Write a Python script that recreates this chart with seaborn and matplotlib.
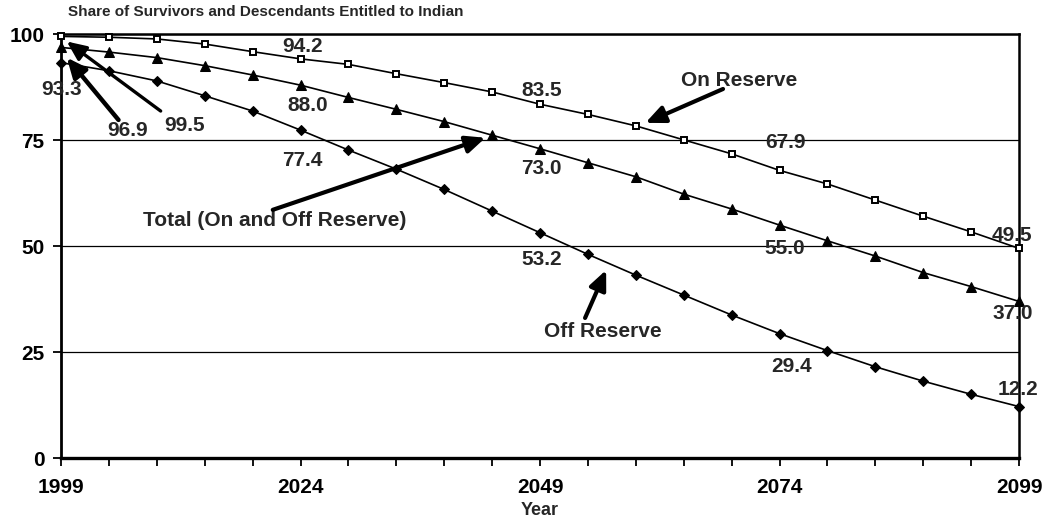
import matplotlib
matplotlib.use("Agg")
import matplotlib.pyplot as plt
from matplotlib.ticker import FixedLocator
import seaborn as sns

# Share (%) of survivors and descendants entitled to Indian registration
years = list(range(1999, 2100, 5))
on_reserve = [99.5, 99.3, 98.9, 97.7, 95.9, 94.2, 92.9, 90.7, 88.6, 86.4, 83.5,
              81.1, 78.4, 75.1, 71.8, 67.9, 64.7, 60.9, 57.1, 53.4, 49.5]
total = [96.9, 95.8, 94.5, 92.6, 90.4, 88.0, 85.1, 82.3, 79.4, 76.2, 73.0,
         69.7, 66.4, 62.3, 58.8, 55.0, 51.3, 47.7, 43.8, 40.5, 37.0]
off_reserve = [93.3, 91.4, 89.0, 85.5, 81.9, 77.4, 72.7, 68.2, 63.4, 58.3, 53.2,
               48.1, 43.2, 38.5, 33.8, 29.4, 25.4, 21.6, 18.2, 15.1, 12.2]

y_ticks = [0, 25, 50, 75, 100]
x_labels = [1999, 2024, 2049, 2074, 2099]

sns.set_theme(style="white")
plt.rcParams["font.family"] = ["Liberation Sans", "DejaVu Sans"]
plt.rcParams["font.weight"] = "bold"

fig = plt.figure(figsize=(10.47, 5.29), dpi=100)
ax = fig.add_axes([0.0583, 0.1336, 0.915, 0.8016])

series = {
    "on": (on_reserve, dict(marker="s", markersize=4.3, markerfacecolor="white",
                            markeredgecolor="black", markeredgewidth=1.4)),
    "total": (total, dict(marker="^", markersize=7.5, markerfacecolor="black",
                          markeredgecolor="black")),
    "off": (off_reserve, dict(marker="D", markersize=5.0, markerfacecolor="black",
                              markeredgecolor="black")),
}
for name, (vals, mk) in series.items():
    sns.lineplot(x=years, y=vals, color="black", linewidth=1.2, ax=ax, **mk)
for ln in ax.lines:
    ln.set_clip_on(False)
    ln.set_zorder(5)

ax.set_xlim(1999, 2099)
ax.set_ylim(0, 100)
ax.xaxis.set_major_locator(FixedLocator(x_labels))
ax.xaxis.set_minor_locator(FixedLocator(years))
ax.set_yticks(y_ticks)
ax.set_xticklabels([str(v) for v in x_labels])
ax.grid(axis="y", color="black", linewidth=0.9)
ax.tick_params(axis="both", which="both", direction="out", length=6, width=1.3,
               color="black", labelsize=15, labelcolor="black")
ax.tick_params(axis="x", which="minor", length=6, width=1.3, bottom=True)
ax.tick_params(axis="x", which="major", pad=8, bottom=True)
ax.tick_params(axis="y", which="major", pad=6, left=True)
for lbl in ax.get_xticklabels() + ax.get_yticklabels():
    lbl.set_fontweight("bold")

for side, lw in (("left", 2.0), ("bottom", 2.4), ("top", 1.8), ("right", 1.8)):
    ax.spines[side].set_visible(True)
    ax.spines[side].set_color("black")
    ax.spines[side].set_linewidth(lw)

ax.set_xlabel("Year", fontsize=13, fontweight="bold", labelpad=4)
ax.set_ylabel("")

fig.text(0.065, 0.977, "Share of Survivors and Descendants Entitled to Indian",
         fontsize=11, fontweight="bold", ha="left", va="center")

# value labels placed beside their points (offsets in points)
label_offsets = {
    ("on", 2024): (1.5, 8.6), ("total", 2024): (5.0, -14.4), ("off", 2024): (1.5, -21.6),
    ("on", 2049): (1.5, 10.0), ("total", 2049): (1.0, -14.4), ("off", 2049): (1.0, -19.4),
    ("on", 2074): (4.3, 20.2), ("total", 2074): (3.6, -16.6), ("off", 2074): (8.6, -23.8),
    ("on", 2099): (-5.0, 9.4), ("total", 2099): (-4.3, -8.6), ("off", 2099): (-0.7, 12.2),
    ("off", 1999): (0.7, -19.4),
}
for (name, yr), (dx, dy) in label_offsets.items():
    v = series[name][0][years.index(yr)]
    ax.annotate(f"{v:.1f}", xy=(yr, v), xytext=(dx, dy), textcoords="offset points",
                ha="center", va="center", fontsize=15, fontweight="bold", zorder=6,
                annotation_clip=False)

# labels for 1999 values with pointers
ax.text(2005.9, 77.4, f"{total[0]:.1f}", ha="center", va="center", fontsize=15,
        fontweight="bold")
ax.text(2011.9, 78.4, f"{on_reserve[0]:.1f}", ha="center", va="center", fontsize=15,
        fontweight="bold")


def pointer(tail, head, lw=3.0):
    ax.annotate("", xy=head, xytext=tail, annotation_clip=False,
                arrowprops=dict(arrowstyle="-|>,head_length=0.9,head_width=0.4",
                                lw=lw, color="black", shrinkA=0, shrinkB=0,
                                mutation_scale=13), zorder=7)


pointer((2005.0, 79.8), (1999.6, 94.5), lw=3.2)
pointer((2009.4, 81.9), (1999.6, 98.3), lw=2.4)

# series names
ax.text(2069.8, 89.2, "On Reserve", ha="center", va="center", fontsize=15,
        fontweight="bold")
pointer((2068.1, 87.1), (2060.0, 79.1))
ax.text(2021.3, 56.0, "Total (On and Off Reserve)", ha="center", va="center",
        fontsize=15, fontweight="bold")
pointer((2021.1, 58.6), (2043.3, 75.6))
ax.text(2055.6, 30.0, "Off Reserve", ha="center", va="center", fontsize=15,
        fontweight="bold")
pointer((2053.7, 33.1), (2055.9, 44.4))

fig.savefig("out.png", dpi=100)
